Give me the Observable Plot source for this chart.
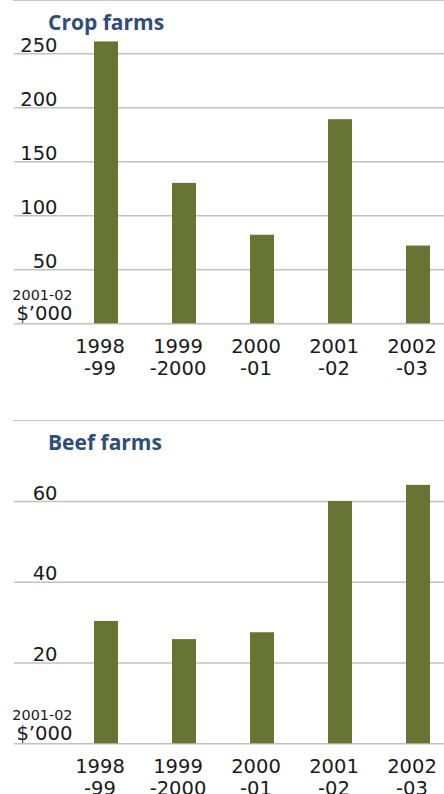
<!DOCTYPE html>
<html>
<head>
<meta charset="utf-8">
<script src="https://cdn.jsdelivr.net/npm/d3@7"></script>
<script src="https://cdn.jsdelivr.net/npm/@observablehq/plot@0.6"></script>
<style>
  html, body { margin: 0; padding: 0; background: #fff; }
  #chart { position: relative; width: 444px; height: 794px; overflow: hidden; font-family: "DejaVu Sans", sans-serif; }
  .panel { position: absolute; left: 0; width: 444px; overflow: hidden; }
  .sep { position: absolute; left: 13px; right: 0; top: 0; height: 0; border-top: 1.5px solid #c6c6c6; }
  .title { position: absolute; left: 48px; top: 11.6px; font-family: "Open Sans", sans-serif; font-weight: 700; font-size: 21px; line-height: 21px; color: #2e4d7a; white-space: nowrap; z-index: 2; }
  .panel svg { position: absolute; left: 0; top: 0; }
</style>
</head>
<body>
<div id="chart"></div>
<script>
// ---- data ----
const periods = ["1998-99", "1999-2000", "2000-01", "2001-02", "2002-03"];
const cropValues = [261, 130, 82, 189, 72];
const beefValues = [30.3, 25.8, 27.5, 60, 64];
const cropTicks = [50, 100, 150, 200, 250];
const beefTicks = [20, 40, 60];
const titles = ["Crop farms", "Beef farms"];
const unitYear = "2001-02";
const unitCurrency = "$\u2019000";

const barColor = "#687434";
const gridColor = "#c2c2c2";
const textColor = "#1a1a1a";
const font = "DejaVu Sans, sans-serif";

function makePanel(title, values, ticks, topPx, heightPx, panelTop) {
  const data = periods.map((p, i) => ({ period: p, value: values[i] }));
  const frameBottom = 323.3;
  const plot = Plot.plot({
    width: 444,
    height: heightPx,
    marginLeft: 14,
    marginRight: 0,
    marginTop: topPx,
    marginBottom: heightPx - frameBottom,
    style: { fontFamily: font, color: textColor, background: "transparent", overflow: "visible" },
    x: { domain: periods, range: [92, 432], paddingInner: 0.696, paddingOuter: 0, label: null },
    y: { domain: [0, ticks[ticks.length - 1]], label: null },
    marks: [
      Plot.ruleY([0, ...ticks], { stroke: gridColor, strokeWidth: 1.5 }),
      Plot.barY(data, { x: "period", y: "value", fill: barColor }),
      Plot.axisY({
        ticks: ticks, tickSize: 0, tickPadding: 0, dx: 43, dy: -2,
        lineAnchor: "bottom", textAnchor: "end", fontSize: 19.5, label: null,
        fill: textColor
      }),
      Plot.axisX({
        tickSize: 0, tickPadding: 14.6, fontSize: 19.5, lineHeight: 1.09,
        lineAnchor: "top", label: null, fill: textColor, dx: -6.5,
        tickFormat: d => d.replace("-", "\n-")
      }),
      Plot.text([unitYear], {
        text: d => d, frameAnchor: "bottom-left", dx: 58, dy: -24,
        textAnchor: "end", lineAnchor: "bottom", fontSize: 14.4, fill: textColor
      }),
      Plot.text([unitCurrency], {
        text: d => d, frameAnchor: "bottom-left", dx: 58, dy: -4,
        textAnchor: "end", lineAnchor: "bottom", fontSize: 19.6, fill: textColor
      })
    ]
  });
  const panel = document.createElement("div");
  panel.className = "panel";
  panel.style.top = panelTop + "px";
  panel.style.height = heightPx + "px";
  panel.appendChild(plot);
  const sep = document.createElement("div");
  sep.className = "sep";
  panel.appendChild(sep);
  const t = document.createElement("div");
  t.className = "title";
  t.textContent = title;
  panel.appendChild(t);
  document.getElementById("chart").appendChild(panel);
}

makePanel(titles[0], cropValues, cropTicks, 53.3, 420, 0);
makePanel(titles[1], beefValues, beefTicks, 81, 374, 420);
</script>
</body>
</html>
